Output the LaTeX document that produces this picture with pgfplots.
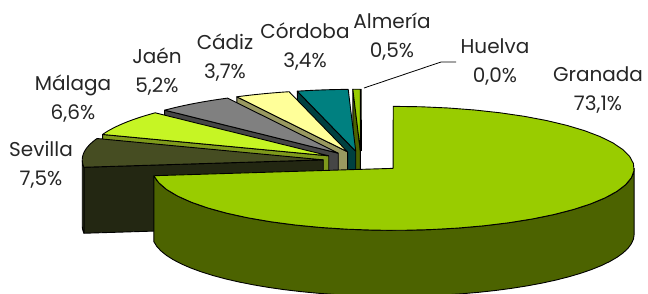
\documentclass[border=0pt]{standalone}
\usepackage{pgfplots}
\pgfplotsset{compat=1.18}
\usepackage{fontspec}
\setmainfont{Poppins}

% ---- data (percent) ----
\def\vGra{73.1}\def\vSev{7.5}\def\vMal{6.6}\def\vJae{5.2}
\def\vCad{3.7}\def\vCor{3.4}\def\vAlm{0.5}\def\vHue{0.0}

% ---- angles (clockwise from 12 o'clock) ----
\pgfmathsetmacro\aGraMax{90}
\pgfmathsetmacro\aGraMin{90-3.6*\vGra}
\pgfmathsetmacro\aSevMax{\aGraMin+360}
\pgfmathsetmacro\aSevMin{\aSevMax-3.6*\vSev}
\pgfmathsetmacro\aMalMax{\aSevMin}
\pgfmathsetmacro\aMalMin{\aMalMax-3.6*\vMal}
\pgfmathsetmacro\aJaeMax{\aMalMin}
\pgfmathsetmacro\aJaeMin{\aJaeMax-3.6*\vJae}
\pgfmathsetmacro\aCadMax{\aJaeMin}
\pgfmathsetmacro\aCadMin{\aCadMax-3.6*\vCad}
\pgfmathsetmacro\aCorMax{\aCadMin}
\pgfmathsetmacro\aCorMin{\aCorMax-3.6*\vCor}
\pgfmathsetmacro\aAlmMax{\aCorMin}
\pgfmathsetmacro\aAlmMin{\aAlmMax-3.6*\vAlm}
\pgfmathsetmacro\aHueMax{\aAlmMin}
\pgfmathsetmacro\aHueMin{\aHueMax-3.6*\vHue}

\def\rx{241}\def\ry{62}\def\hh{66}
\def\ox{361}\def\oy{161}

\definecolor{graT}{HTML}{99CC00}\definecolor{graS}{HTML}{4C6300}
\definecolor{sevT}{HTML}{464D22}\definecolor{sevF}{HTML}{232712}
\definecolor{malT}{HTML}{C6F524}\definecolor{malF}{HTML}{7F9A1C}
\definecolor{jaeT}{HTML}{808080}\definecolor{jaeF}{HTML}{464646}
\definecolor{cadT}{HTML}{FFFF99}\definecolor{cadF}{HTML}{999960}
\definecolor{corT}{HTML}{008080}\definecolor{corF}{HTML}{004040}
\definecolor{almT}{HTML}{99CC00}\definecolor{almF}{HTML}{4C6300}

\pgfplotsset{slicestyle/.style={draw=black,line width=0.9pt,line join=round}}
\tikzset{lab/.style={font=\fontsize{20}{29}\selectfont,text=black!85,align=center,inner sep=0pt}}

% centre of a slice exploded along its mid angle
\newcommand\sliceCentre[3]{%
  \pgfmathsetmacro\mid{(#1+#2)/2}%
  \pgfmathsetmacro\cx{\ox+#3*cos(\mid)}%
  \pgfmathsetmacro\cy{\oy-#3*sin(\mid)*\ry/\rx}%
}
% radial cut face at angle #1
\newcommand\sliceFace[2]{%
  \addplot[slicestyle,fill=#2,variable=t,samples at={0,1,2,3,4}]
   ({\cx+((t>0.5)*(t<2.5))*\rx*cos(#1)},
    {\cy-((t>0.5)*(t<2.5))*\ry*sin(#1)+((t>1.5)*(t<3.5))*\hh});
}
% outer cylinder band from #1 to #2
\newcommand\sliceBand[3]{%
  \addplot[slicestyle,fill=#3,variable=t,samples at={0,1,...,82}]
   ({\cx+\rx*cos((t<40.5)*(#1+(#2-#1)*t/40)+(t>40.5)*(t<81.5)*(#2-(#2-#1)*(t-41)/40)+(t>81.5)*(#1))},
    {\cy-\ry*sin((t<40.5)*(#1+(#2-#1)*t/40)+(t>40.5)*(t<81.5)*(#2-(#2-#1)*(t-41)/40)+(t>81.5)*(#1))+(t>40.5)*(t<81.5)*\hh});
}
% top face from #1 to #2
\newcommand\sliceTop[3]{%
  \addplot[slicestyle,fill=#3,variable=t,samples at={-1,0,1,...,40,41}]
   ({\cx+((t>-0.5)*(t<40.5))*\rx*cos(#1+(#2-#1)*t/40)},
    {\cy-((t>-0.5)*(t<40.5))*\ry*sin(#1+(#2-#1)*t/40)});
}

\begin{document}
\begin{tikzpicture}
\begin{axis}[
  width=648pt,height=293pt,scale only axis,
  xmin=0,xmax=648,ymin=0,ymax=293,y dir=reverse,
  hide axis,clip=false,
]
% Huelva (0,0%)
\sliceCentre{\aHueMin}{\aHueMax}{38}
\sliceTop{\aHueMin}{\aHueMax}{almT}
% Almeria
\sliceCentre{\aAlmMin}{\aAlmMax}{38}
\sliceFace{\aAlmMax}{almF}
\sliceTop{\aAlmMin}{\aAlmMax}{almT}
% Cordoba
\sliceCentre{\aCorMin}{\aCorMax}{38}
\sliceFace{\aCorMax}{corF}
\sliceTop{\aCorMin}{\aCorMax}{corT}
% Cadiz
\sliceCentre{\aCadMin}{\aCadMax}{38}
\sliceFace{\aCadMax}{cadF}
\sliceTop{\aCadMin}{\aCadMax}{cadT}
% Jaen
\sliceCentre{\aJaeMin}{\aJaeMax}{38}
\sliceFace{\aJaeMax}{jaeF}
\sliceTop{\aJaeMin}{\aJaeMax}{jaeT}
% Malaga
\sliceCentre{\aMalMin}{\aMalMax}{38}
\sliceFace{\aMalMax}{malF}
\sliceTop{\aMalMin}{\aMalMax}{malT}
% Sevilla
\sliceCentre{\aSevMin}{\aSevMax}{38}
\sliceFace{\aSevMax}{sevF}
\sliceBand{180}{\aSevMax}{sevF}
\sliceTop{\aSevMin}{\aSevMax}{sevT}
% Granada
\sliceCentre{\aGraMin}{\aGraMax}{43}
\sliceBand{\aGraMin}{0}{graS}
\sliceTop{\aGraMin}{\aGraMax}{graT}
% leader line for Huelva
\addplot[black,line width=0.8pt] coordinates {(364,88) (441,62) (456,62)};

\node[lab] at (axis cs:598,90) {Granada\\73,1\%};
\node[lab] at (axis cs:495,62) {Huelva\\0,0\%};
\node[lab] at (axis cs:392,37) {Almería\\0,5\%};
\node[lab] at (axis cs:305,47) {Córdoba\\3,4\%};
\node[lab] at (axis cs:225,58) {Cádiz\\3,7\%};
\node[lab] at (axis cs:157,72) {Jaén\\5,2\%};
\node[lab] at (axis cs:73,99) {Málaga\\6,6\%};
\node[lab] at (axis cs:41,165) {Sevilla\\7,5\%};
\end{axis}
\pgfresetboundingbox
\path[use as bounding box] (current axis.south west) rectangle (current axis.north east);
\end{tikzpicture}
\end{document}
